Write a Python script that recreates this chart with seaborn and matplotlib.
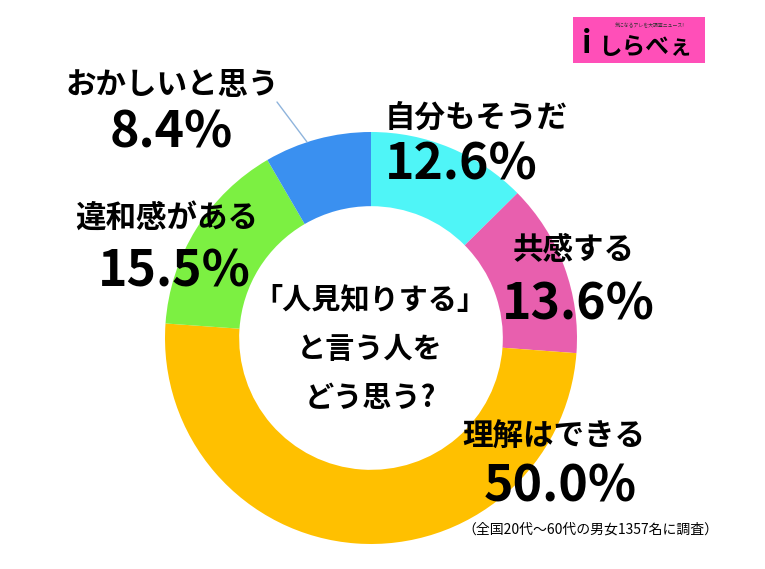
import matplotlib.pyplot as plt
import seaborn as sns
from matplotlib.patches import Rectangle

categories = ['自分もそうだ', '共感する', '理解はできる', '違和感がある', 'おかしいと思う']
shares = [12.6, 13.6, 50.0, 15.5, 8.4]
colors = ['#4ff5f7', '#e85fae', '#ffc000', '#7cf042', '#3a90f0']

sns.set_theme(style='white')
plt.rcParams['font.family'] = ['Noto Sans CJK JP', 'DejaVu Sans']

fig = plt.figure(figsize=(7.65, 5.69), dpi=100)
fig.patch.set_facecolor('white')
W, H = 765, 569
R = 206
cx, cy = 371, 338
ax = fig.add_axes([(cx - R) / W, (H - cy - R) / H, 2 * R / W, 2 * R / H])
ax.pie(shares, colors=colors, startangle=90, counterclock=False, radius=1,
       wedgeprops=dict(width=0.36, edgecolor='none'))
ax.set_xlim(-1, 1)
ax.set_ylim(-1, 1)
ax.set_aspect('equal')
ax.axis('off')


def px(x, y):
    return x / W, 1 - y / H


# label positions (pixel) for each category: name, value
label_pos = {
    '自分もそうだ': ((385, 118), (385, 165)),
    '共感する': ((513, 250), (502, 305)),
    '理解はできる': ((462, 437), (484, 487)),
    '違和感がある': ((75, 218), (98, 272)),
    'おかしいと思う': ((66, 85), (110, 133)),
}
for cat, val in zip(categories, shares):
    (nx, ny), (vx, vy) = label_pos[cat]
    fig.text(*px(nx, ny), cat, fontsize=22, fontweight='bold', ha='left', va='center', color='black')
    fig.text(*px(vx, vy), f'{val:.1f}%', fontsize=36, fontweight='bold', ha='left', va='center', color='black')

# leader line for the small slice
fig.add_artist(plt.Line2D([277 / W, 307 / W], [1 - 102 / H, 1 - 142 / H], color='#8fb4dc', lw=1))

center_lines = ['「人見知りする」', 'と言う人を', 'どう思う?']
for i, line in enumerate(center_lines):
    fig.text(*px(370, 300 + i * 49), line, fontsize=21, fontweight='bold', ha='center', va='center', color='black')

fig.text(*px(462, 530), '（全国20代～60代の男女1357名に調査）', fontsize=10, ha='left', va='center', color='black')

# logo
fig.add_artist(Rectangle((573 / W, 1 - 63 / H), 132 / W, 46 / H, transform=fig.transFigure,
                         facecolor='#ff4fb8', edgecolor='none'))
fig.text(*px(650, 26), '気になるアレを大調査ニュース!', fontsize=3.5, ha='center', va='center', color='#333333')
fig.text(*px(587, 44), 'i', fontsize=22, fontweight='bold', ha='center', va='center', color='black')
fig.text(*px(645, 47), 'しらべぇ', fontsize=17, fontweight='bold', ha='center', va='center', color='black')

fig.savefig('out.png', dpi=100, facecolor='white')
